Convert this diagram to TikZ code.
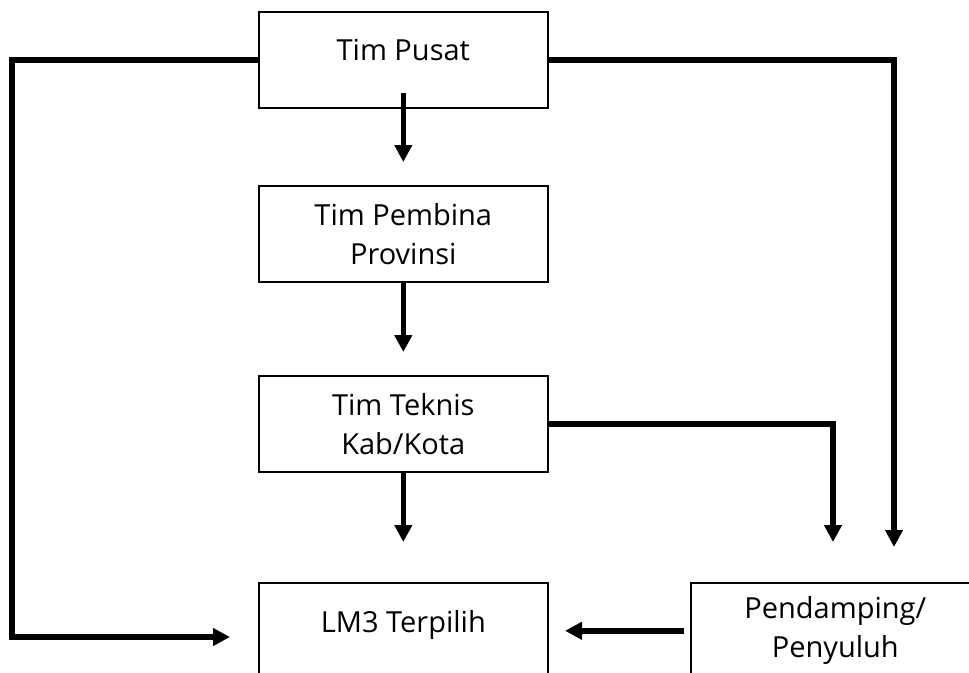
\documentclass[tikz,border=0pt]{standalone}
\usepackage{fontspec}
\setmainfont{Open Sans}
\usetikzlibrary{arrows.meta,calc}
\begin{document}
\begin{tikzpicture}[x=1pt,y=-1pt,
  box/.style={draw, line width=1.6pt, minimum width=289pt, minimum height=96pt,
    inner sep=0pt, anchor=north west, align=center,
    font=\fontsize{29}{39}\selectfont},
  topbox/.style={box, minimum height=0pt, text height=49pt, text depth=47pt},
  conn/.style={line width=5.5pt, -{Triangle[width=17pt,length=17pt]}},
  ]
\useasboundingbox (0,0) rectangle (969,672);
\clip (0,0) rectangle (969,672);

\node[topbox] (pusat) at (258,11) {Tim Pusat};
\node[box] (pembina) at (258,185) {Tim Pembina\\Provinsi};
\node[box] (teknis) at (258,375) {Tim Teknis\\Kab/Kota};
\node[topbox, text height=50pt, text depth=46pt] (lm3) at (258,582) {LM3 Terpilih};
\node[box] (pend) at (690,582) {Pendamping/\\Penyuluh};

\coordinate (a1s) at ($(pusat.south)+(0,-16)$);
\coordinate (a1e) at ($(pembina.north)+(0,-23)$);
\coordinate (a2e) at ($(teknis.north)+(0,-23)$);
\coordinate (a3e) at ($(lm3.north)+(0,-40)$);
\coordinate (lc) at (12,637);
\coordinate (le) at (230,637);
\coordinate (re) at (894,547);
\coordinate (te) at (833,542);
\coordinate (ps) at ($(pend.west)+(-6,0)$);
\coordinate (pe) at ($(pend.west)+(-125,0)$);

\draw[conn] (a1s) -- (a1e);
\draw[conn] (pembina.south) -- (a2e);
\draw[conn] (teknis.south) -- (a3e);
\draw[conn] (pusat.west) -| (lc) -- (le);
\draw[conn] (pusat.east) -| (re);
\draw[conn] (teknis.east) -| (te);
\draw[conn] (ps) -- (pe);
\end{tikzpicture}
\end{document}
